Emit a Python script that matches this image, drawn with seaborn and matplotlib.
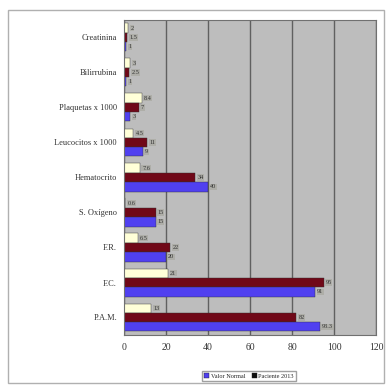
import matplotlib
matplotlib.use("Agg")
import matplotlib.pyplot as plt
import matplotlib.patches as mpatches
import seaborn as sns
import pandas as pd

categories = ["Creatinina", "Bilirrubina", "Plaquetas x 1000", "Leucocitos x 1000",
              "Hematocrito", "S. Oxígeno", "F.R.", "F.C.", "P.A.M."]
series_names = ["Valor Ingreso", "Paciente 2013", "Valor Normal"]
valor_ingreso = [2, 3, 8.4, 4.5, 7.6, 0.6, 6.5, 21, 13]
paciente = [1.5, 2.5, 7, 11, 34, 15, 22, 95, 82]
valor_normal = [1, 1, 3, 9, 40, 15, 20, 91, 93.3]
x_ticks = [0, 20, 40, 60, 80, 100, 120]

rows = []
for name, vals in zip(series_names, [valor_ingreso, paciente, valor_normal]):
    for cat, v in zip(categories, vals):
        rows.append({"Categoria": cat, "Serie": name, "Valor": v})
df = pd.DataFrame(rows)

sns.set_theme(style="white")
plt.rcParams["font.family"] = ["Liberation Serif", "DejaVu Sans"]

fig = plt.figure(figsize=(3.87, 3.85), dpi=100)
ax = fig.add_axes([124 / 387, 1 - 335 / 385, (376 - 124) / 387, (335 - 20) / 385])

palette = {"Valor Ingreso": "#ffffd8", "Paciente 2013": "#700818", "Valor Normal": "#5040f0"}
sns.barplot(data=df, y="Categoria", x="Valor", hue="Serie", order=categories,
            hue_order=series_names, palette=palette, orient="h", ax=ax,
            width=0.8, saturation=1, edgecolor="#303030", linewidth=0.3, legend=False)

ax.set_facecolor("#bdbdbd")
ax.set_xlim(0, 120)
ax.set_xticks(x_ticks)
ax.set_xticklabels([str(t) for t in x_ticks], fontsize=7, color="#333333")
ax.tick_params(axis="y", labelsize=6, colors="#333333", length=0, pad=5)
ax.tick_params(axis="x", length=2, pad=4, colors="#333333")
ax.set_xlabel("")
ax.set_ylabel("")
ax.xaxis.grid(True, color="#606060", linewidth=1.0)
ax.set_axisbelow(True)
for s in ax.spines.values():
    s.set_color("#707070")
    s.set_linewidth(0.8)

for cont, vals in zip(ax.containers, [valor_ingreso, paciente, valor_normal]):
    labels = [("%g" % v) for v in vals]
    ax.bar_label(cont, labels=labels, fontsize=4.5, color="#303030", padding=1.5,
                 bbox=dict(boxstyle="square,pad=0.1", fc="#a8a8a0", ec="none", alpha=0.7))

handles = [mpatches.Patch(facecolor=palette["Valor Normal"], edgecolor="#222222", linewidth=0.3),
           mpatches.Patch(facecolor="#101010", edgecolor="#222222", linewidth=0.3)]
fig.legend(handles, ["Valor Normal", "Paciente 2013"], loc="center",
           bbox_to_anchor=(249 / 387, 1 - 376 / 385), ncol=2, fontsize=4.5,
           frameon=True, edgecolor="#888888", fancybox=False, handlelength=0.8,
           handleheight=0.8, columnspacing=1.0, handletextpad=0.3, borderpad=0.3)

fig.patches.append(mpatches.Rectangle((8 / 387, 2 / 385), 376 / 387, 373 / 385,
                                      transform=fig.transFigure, fill=False,
                                      edgecolor="#b0b0b0", linewidth=1.0))

fig.savefig("out.png", dpi=100)
